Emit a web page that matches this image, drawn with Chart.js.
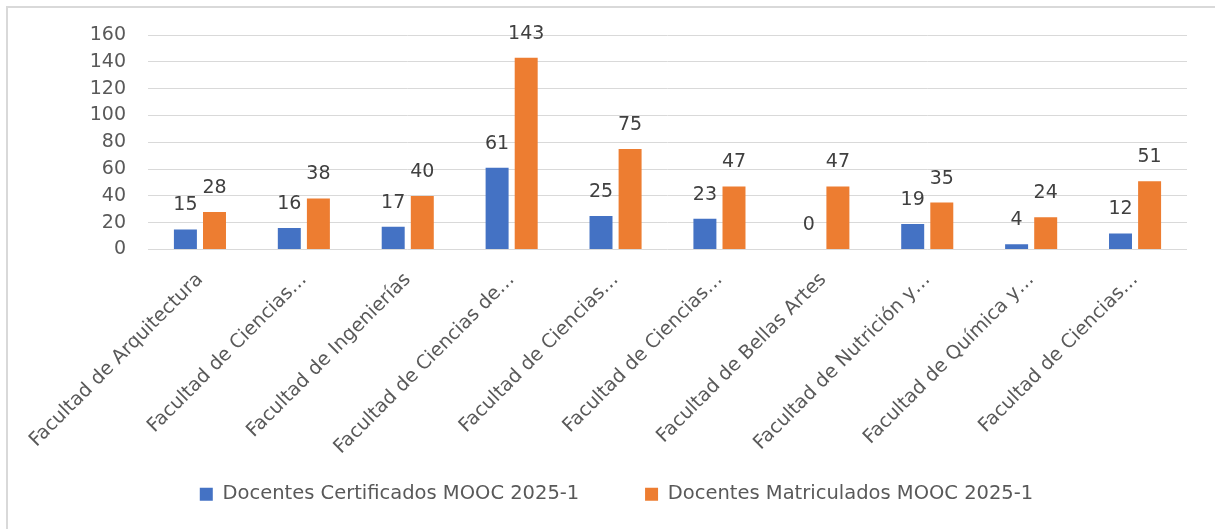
<!DOCTYPE html>
<html>
<head>
<meta charset="utf-8">
<script src="https://cdn.jsdelivr.net/npm/chart.js@4"></script>
<style>
  html, body { margin: 0; padding: 0; background: #fff; overflow: hidden; }
  #wrap { position: absolute; left: 0; top: 0; width: 1215px; height: 529px; overflow: hidden; }
  #frame { position: absolute; left: 6px; top: 6px; width: 1240px; height: 560px; border-top: 2px solid #d9d9d9; border-left: 2px solid #d9d9d9; }
  canvas { position: absolute; left: 0; top: 0; }
</style>
</head>
<body>
<div id="wrap">
  <div id="frame"></div>
  <canvas id="chart" width="1215" height="529"></canvas>
</div>
<script>
// categorías (nombres recortados tal como aparecen en la gráfica)
const facultades = [
  'Facultad de Arquitectura',
  'Facultad de Ciencias…',
  'Facultad de Ingenierías',
  'Facultad de Ciencias de…',
  'Facultad de Ciencias…',
  'Facultad de Ciencias…',
  'Facultad de Bellas Artes',
  'Facultad de Nutrición y…',
  'Facultad de Química y…',
  'Facultad de Ciencias…'
];
const certificados = [15, 16, 17, 61, 25, 23, 0, 19, 4, 12];
const matriculados = [28, 38, 40, 143, 75, 47, 47, 35, 24, 51];
const yTicks = [0, 20, 40, 60, 80, 100, 120, 140, 160];

const FONT = 'DejaVu Sans';

// etiquetas de valor encima de cada barra
const valueLabels = {
  id: 'valueLabels',
  afterDatasetsDraw(chart) {
    const ctx = chart.ctx;
    ctx.save();
    ctx.font = '19px "' + FONT + '"';
    ctx.fillStyle = '#404040';
    ctx.textAlign = 'center';
    ctx.textBaseline = 'middle';
    chart.data.datasets.forEach((ds, i) => {
      chart.getDatasetMeta(i).data.forEach((bar, j) => {
        ctx.fillText(String(ds.data[j]), bar.x, bar.y - 24);
      });
    });
    ctx.restore();
  }
};

new Chart(document.getElementById('chart'), {
  type: 'bar',
  data: {
    labels: facultades,
    datasets: [{
      label: 'Docentes Certificados MOOC 2025-1',
      data: certificados,
      backgroundColor: '#4472c4',
      barPercentage: 0.79,
      categoryPercentage: 0.56
    }, {
      label: 'Docentes Matriculados MOOC 2025-1',
      data: matriculados,
      backgroundColor: '#ed7d31',
      barPercentage: 0.79,
      categoryPercentage: 0.56
    }]
  },
  options: {
    responsive: false,
    animation: false,
    layout: { padding: { left: 46, right: 28, top: 35, bottom: 15 } },
    plugins: {
      tooltip: { enabled: false },
      legend: {
        position: 'bottom',
        labels: {
          font: { family: FONT, size: 19.5 },
          color: '#595959',
          boxWidth: 13,
          boxHeight: 13,
          padding: 10,
          // separación amplia entre las dos entradas, como en el original
          generateLabels(chart) {
            const items = Chart.defaults.plugins.legend.labels.generateLabels(chart);
            items.forEach((it, i) => {
              if (i < items.length - 1) it.text += '         ';
            });
            return items;
          }
        }
      }
    },
    scales: {
      x: {
        grid: { display: false, drawTicks: false },
        border: { display: false },
        ticks: {
          font: { family: FONT, size: 19.2 },
          color: '#595959',
          maxRotation: 45,
          minRotation: 45,
          autoSkip: false,
          padding: 19
        },
        afterFit(scale) { scale.height = 225; }
      },
      y: {
        min: 0,
        max: 160,
        grid: { color: '#d9d9d9', lineWidth: 1, drawTicks: false },
        border: { display: false },
        afterBuildTicks(scale) { scale.ticks = yTicks.map(v => ({ value: v })); },
        ticks: {
          font: { family: FONT, size: 19 },
          color: '#595959',
          padding: 22
        },
        afterFit(scale) { scale.width = 102; }
      }
    }
  },
  plugins: [valueLabels]
});
</script>
</body>
</html>
